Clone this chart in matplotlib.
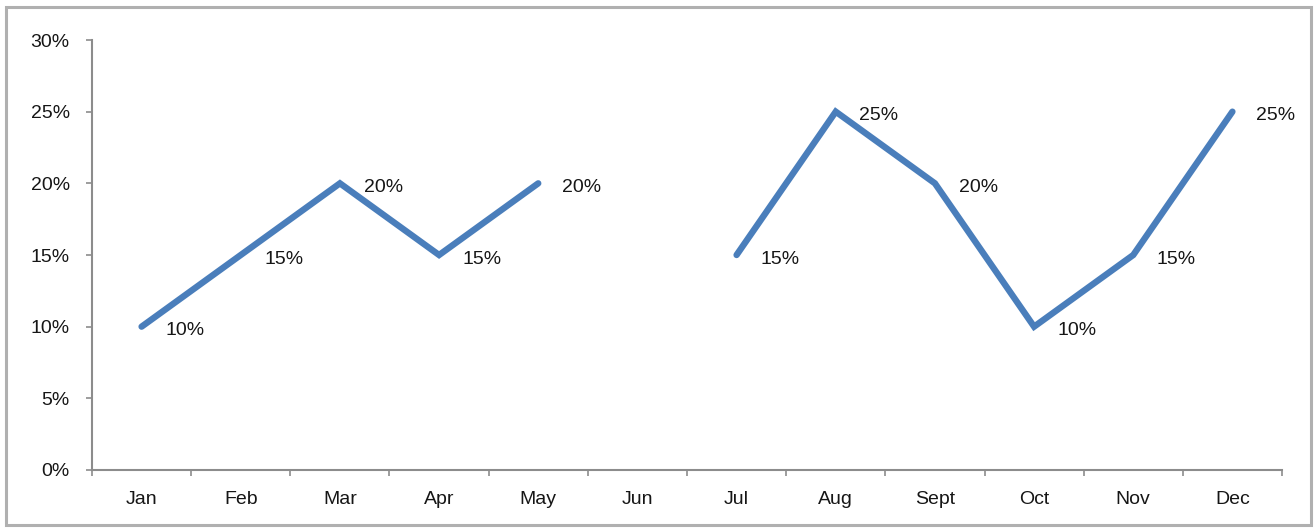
import numpy as np
import matplotlib
matplotlib.use("Agg")
import matplotlib.pyplot as plt
from matplotlib.patches import Rectangle

plt.rcParams['font.family'] = ['Liberation Sans', 'DejaVu Sans']

months = ["Jan", "Feb", "Mar", "Apr", "May", "Jun",
          "Jul", "Aug", "Sept", "Oct", "Nov", "Dec"]
rates = [10, 15, 20, 15, 20, np.nan, 15, 25, 20, 10, 15, 25]  # percent; Jun missing
y_ticks = [0, 5, 10, 15, 20, 25, 30]

fig = plt.figure(figsize=(13.16, 5.29), dpi=100)
ax = fig.add_axes([92 / 1316, 1 - 470 / 529, 1190 / 1316, 430 / 529])

x = np.arange(len(months))
ax.plot(x, rates, color="#4a7ebb", lw=4.6, solid_capstyle="round",
        solid_joinstyle="miter")

for xi, v in zip(x, rates):
    if np.isnan(v):
        continue
    ax.annotate(f"{v:.0f}%", (xi, v), xytext=(17, -3), textcoords="offset points",
                ha="left", va="center", fontsize=14, color="#161616")

ax.set_xlim(-0.5, len(months) - 0.5)
ax.set_ylim(0, 30)
ax.set_yticks(y_ticks)
ax.set_yticklabels([f"{t}%" for t in y_ticks])
ax.set_xticks(x)
ax.set_xticklabels(months)
ax.set_xticks(np.arange(-0.5, len(months)), minor=True)

for s in ("top", "right"):
    ax.spines[s].set_visible(False)
for s in ("left", "bottom"):
    ax.spines[s].set_color("#8c8c8c")
    ax.spines[s].set_linewidth(1.5)

ax.tick_params(axis="x", which="major", length=0, pad=15, labelsize=14,
               labelcolor="#161616")
ax.tick_params(axis="x", which="minor", length=4, color="#8c8c8c", width=1.2)
ax.tick_params(axis="y", length=4, color="#8c8c8c", width=1.2, pad=12,
               labelsize=14, labelcolor="#161616")

# figure frame
fig.patches.append(Rectangle((6 / 1316, 4 / 529), 1305 / 1316, 518 / 529,
                             transform=fig.transFigure, fill=False,
                             edgecolor="#b0b0b0", lw=2.2))

fig.savefig("out.png", dpi=100)
